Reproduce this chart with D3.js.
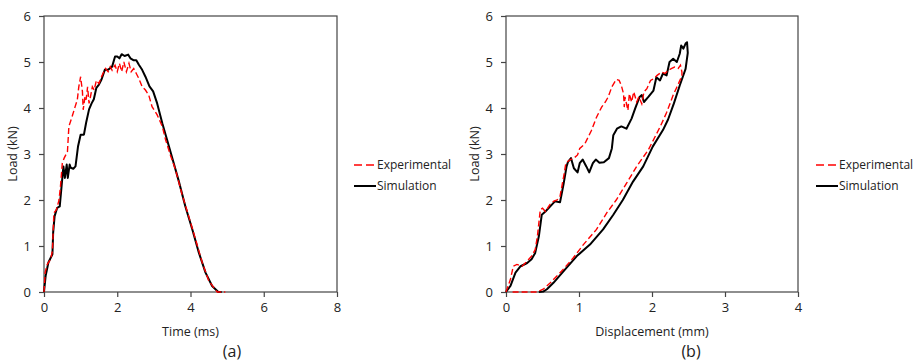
<!DOCTYPE html>
<html>
<head>
<meta charset="utf-8">
<script src="https://cdn.jsdelivr.net/npm/d3@7"></script>
<style>
  body { margin: 0; background: #fff; }
  svg { display: block; }
  text { font-family: "Open Sans", "Noto Sans", sans-serif; fill: #222; }
</style>
</head>
<body>
<script>
// panel (a): load vs time
const expTime = [0, 0.03, 0.09, 0.18, 0.23, 0.27, 0.34, 0.41, 0.45, 0.5, 0.55, 0.64, 0.68, 0.77, 0.85, 0.91, 0.95, 1.0, 1.05, 1.07, 1.12, 1.15, 1.19, 1.23, 1.27, 1.32, 1.37, 1.43, 1.5, 1.55, 1.61, 1.68, 1.75, 1.81, 1.86, 1.94, 2.0, 2.06, 2.12, 2.18, 2.25, 2.32, 2.38, 2.45, 2.52, 2.59, 2.68, 2.77, 2.86, 2.95, 3.09, 3.23, 3.32, 3.45, 3.59, 3.77, 3.95, 4.14, 4.32, 4.5, 4.73, 4.95];
const expLoadA = [0, 0.42, 0.6, 0.71, 0.89, 1.72, 1.79, 2.0, 2.3, 2.8, 2.91, 3.05, 3.6, 3.82, 4.03, 4.18, 4.46, 4.68, 4.35, 3.96, 4.25, 4.18, 4.46, 4.1, 4.25, 4.46, 4.39, 4.6, 4.53, 4.64, 4.75, 4.86, 4.79, 4.9, 4.82, 4.93, 4.79, 4.97, 4.79, 5.0, 4.79, 4.97, 4.79, 4.86, 4.75, 4.64, 4.46, 4.39, 4.28, 4.03, 3.85, 3.6, 3.31, 2.98, 2.66, 2.12, 1.65, 1.14, 0.64, 0.24, 0, 0];
const simTime = [0, 0.045, 0.12, 0.23, 0.25, 0.29, 0.36, 0.43, 0.48, 0.53, 0.57, 0.62, 0.65, 0.7, 0.73, 0.8, 0.86, 0.93, 1.0, 1.09, 1.15, 1.23, 1.3, 1.36, 1.43, 1.5, 1.57, 1.66, 1.75, 1.86, 1.94, 2.0, 2.06, 2.12, 2.2, 2.3, 2.36, 2.44, 2.52, 2.59, 2.68, 2.77, 2.88, 2.98, 3.09, 3.23, 3.36, 3.5, 3.68, 3.86, 4.05, 4.23, 4.41, 4.59, 4.76, 4.85];
const simLoadA = [0, 0.35, 0.64, 0.82, 1.29, 1.65, 1.83, 1.86, 2.3, 2.73, 2.48, 2.77, 2.48, 2.77, 2.7, 2.68, 2.73, 3.17, 3.42, 3.42, 3.68, 3.97, 4.1, 4.19, 4.44, 4.51, 4.62, 4.83, 4.83, 4.9, 5.12, 5.12, 5.08, 5.17, 5.13, 5.16, 5.08, 5.04, 5.04, 4.94, 4.83, 4.68, 4.47, 4.36, 4.1, 3.67, 3.31, 2.92, 2.41, 1.86, 1.36, 0.85, 0.42, 0.13, 0, 0];

// panel (b): load vs displacement (loading branch, then unloading branch)
const expDisp = [0, 0.06, 0.1, 0.15, 0.22, 0.29, 0.35, 0.4, 0.43, 0.47, 0.5, 0.54, 0.6, 0.65, 0.7, 0.74, 0.79, 0.82, 0.87, 0.93, 0.98, 1.01, 1.08, 1.17, 1.24, 1.31, 1.36, 1.4, 1.45, 1.51, 1.55, 1.58, 1.61, 1.62, 1.63, 1.67, 1.69, 1.72, 1.75, 1.79, 1.82, 1.86, 1.89, 1.93, 1.98, 2.03, 2.07, 2.13, 2.18, 2.22, 2.27, 2.31, 2.36, 2.39, 2.41, 2.41, 2.36, 2.29, 2.2, 2.12, 2.05, 1.95, 1.79, 1.65, 1.51, 1.38, 1.24, 1.06, 0.92, 0.76, 0.6, 0.51, 0.42, 0.08];
const expLoadB = [0, 0.27, 0.56, 0.6, 0.56, 0.67, 0.78, 0.92, 1.21, 1.79, 1.82, 1.75, 1.9, 1.97, 2.0, 2.08, 2.51, 2.8, 2.87, 2.91, 2.98, 3.12, 3.22, 3.51, 3.8, 4.02, 4.13, 4.24, 4.46, 4.62, 4.6, 4.49, 4.31, 4.02, 4.24, 3.95, 4.31, 4.13, 4.35, 4.13, 4.24, 4.09, 4.35, 4.42, 4.6, 4.64, 4.71, 4.78, 4.75, 4.82, 4.86, 4.89, 4.86, 4.93, 4.78, 4.7, 4.52, 4.28, 3.9, 3.62, 3.4, 3.09, 2.73, 2.36, 2.0, 1.72, 1.36, 1.03, 0.74, 0.45, 0.19, 0.06, 0, 0];
const simDisp = [0, 0.06, 0.13, 0.2, 0.29, 0.35, 0.4, 0.45, 0.49, 0.54, 0.6, 0.67, 0.74, 0.79, 0.83, 0.85, 0.89, 0.93, 0.98, 1.01, 1.05, 1.1, 1.14, 1.19, 1.23, 1.28, 1.34, 1.41, 1.45, 1.47, 1.52, 1.58, 1.65, 1.72, 1.77, 1.83, 1.86, 1.89, 1.95, 2.02, 2.06, 2.11, 2.15, 2.2, 2.24, 2.29, 2.34, 2.38, 2.4, 2.43, 2.46, 2.48, 2.49, 2.46, 2.38, 2.3, 2.22, 2.15, 2.01, 1.88, 1.74, 1.6, 1.47, 1.33, 1.15, 0.97, 0.81, 0.65, 0.56, 0.51, 0.45];
const simLoadB = [0, 0.13, 0.42, 0.56, 0.63, 0.71, 0.85, 1.21, 1.68, 1.75, 1.85, 1.97, 1.95, 2.36, 2.73, 2.83, 2.91, 2.69, 2.6, 2.8, 2.88, 2.73, 2.6, 2.8, 2.88, 2.81, 2.82, 2.91, 3.12, 3.41, 3.55, 3.6, 3.55, 3.77, 3.99, 4.24, 4.28, 4.13, 4.24, 4.38, 4.67, 4.6, 4.75, 4.71, 5.0, 5.07, 5.0, 5.18, 5.36, 5.29, 5.4, 5.43, 5.2, 4.85, 4.49, 4.1, 3.75, 3.52, 3.16, 2.73, 2.4, 2.0, 1.68, 1.36, 1.03, 0.78, 0.49, 0.2, 0.06, 0.01, 0];

const yTicks = [0, 1, 2, 3, 4, 5, 6];

const svg = d3.select("body").append("svg")
    .attr("width", 915)
    .attr("height", 364);

function zip(xs, ys) {
  return xs.map((x, i) => [x, ys[i]]);
}

function panel(opts) {
  const x = d3.scaleLinear().domain([0, opts.xMax]).range([opts.left, opts.right]);
  const y = d3.scaleLinear().domain([0, 6]).range([292, 16]);
  const g = svg.append("g");

  // frame
  g.append("rect")
      .attr("x", opts.left).attr("y", 16)
      .attr("width", opts.right - opts.left).attr("height", 276)
      .attr("fill", "none").attr("stroke", "#444").attr("stroke-width", 1.2);

  const xAxis = g.append("g")
      .attr("transform", `translate(0,292)`)
      .call(d3.axisBottom(x).tickValues(opts.xTicks).tickSize(5).tickPadding(6).tickFormat(d3.format("d")));
  const yAxis = g.append("g")
      .attr("transform", `translate(${opts.left},0)`)
      .call(d3.axisLeft(y).tickValues(yTicks).tickSize(5).tickPadding(8).tickFormat(d3.format("d")));
  [xAxis, yAxis].forEach(a => {
    a.select(".domain").remove();
    a.selectAll("line").attr("stroke", "#444").attr("stroke-width", 1.2);
    a.selectAll("text").attr("font-size", 13).attr("fill", "#222")
        .attr("font-family", "'Open Sans', 'Noto Sans', sans-serif");
  });

  const line = d3.line().x(d => x(d[0])).y(d => y(d[1]));

  g.append("path")
      .datum(zip(opts.simX, opts.simY))
      .attr("d", line)
      .attr("fill", "none").attr("stroke", "#000").attr("stroke-width", 2)
      .attr("stroke-linejoin", "round");
  g.append("path")
      .datum(zip(opts.expX, opts.expY))
      .attr("d", line)
      .attr("fill", "none").attr("stroke", "#ff0000").attr("stroke-width", 1.4)
      .attr("stroke-dasharray", "6,3");

  // axis titles
  g.append("text")
      .attr("transform", `translate(${opts.left - 31},154) rotate(-90)`)
      .attr("text-anchor", "middle").attr("dy", "0.35em")
      .attr("font-size", 12.5)
      .text("Load (kN)");
  g.append("text")
      .attr("x", (opts.left + opts.right) / 2).attr("y", 336)
      .attr("text-anchor", "middle")
      .attr("font-size", 12.5)
      .text(opts.xTitle);
  g.append("text")
      .attr("x", opts.tagX).attr("y", 357)
      .attr("text-anchor", "middle")
      .attr("font-size", 16)
      .attr("font-family", "'Liberation Sans', Arial, sans-serif")
      .text(opts.tag);

  // legend
  const lg = g.append("g").attr("transform", `translate(${opts.legX},0)`);
  lg.append("line").attr("x1", 0).attr("x2", 22).attr("y1", 165).attr("y2", 165)
      .attr("stroke", "#ff0000").attr("stroke-width", 1.4).attr("stroke-dasharray", "8,4");
  lg.append("text").attr("x", 23).attr("y", 165).attr("dy", "0.35em")
      .attr("font-size", 12).text("Experimental");
  lg.append("line").attr("x1", 0).attr("x2", 22).attr("y1", 186).attr("y2", 186)
      .attr("stroke", "#000").attr("stroke-width", 2);
  lg.append("text").attr("x", 23).attr("y", 186).attr("dy", "0.35em")
      .attr("font-size", 12).text("Simulation");
}

panel({
  left: 44, right: 337, xMax: 8, xTicks: [0, 2, 4, 6, 8],
  expX: expTime, expY: expLoadA, simX: simTime, simY: simLoadA,
  xTitle: "Time (ms)", tag: "(a)", tagX: 232, legX: 354
});
panel({
  left: 506, right: 798, xMax: 4, xTicks: [0, 1, 2, 3, 4],
  expX: expDisp, expY: expLoadB, simX: simDisp, simY: simLoadB,
  xTitle: "Displacement (mm)", tag: "(b)", tagX: 691, legX: 816
});
</script>
</body>
</html>
